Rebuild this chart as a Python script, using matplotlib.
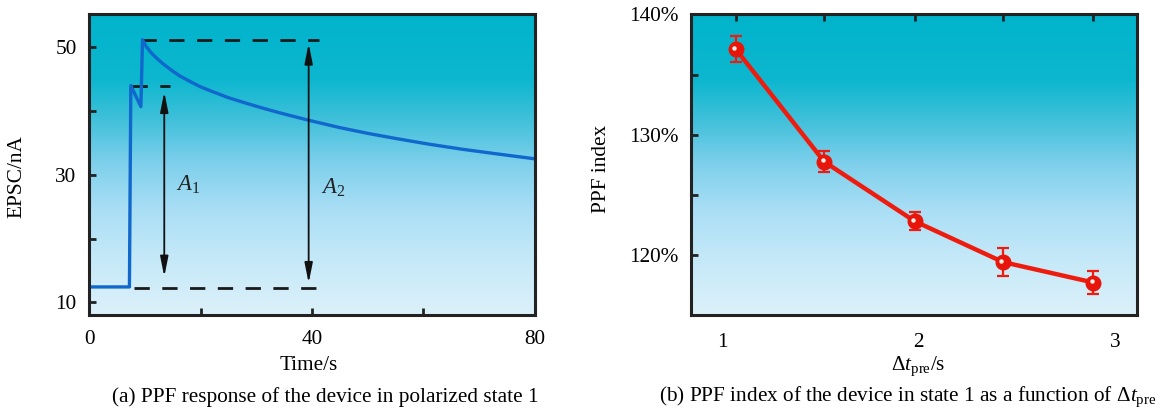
"""PPF response (a) and PPF index vs pulse interval (b)."""
import matplotlib
matplotlib.use("Agg")
import matplotlib.pyplot as plt
import numpy as np
from matplotlib.colors import LinearSegmentedColormap
from matplotlib.transforms import offset_copy

plt.rcParams["font.family"] = ["Liberation Serif", "DejaVu Serif"]
plt.rcParams["mathtext.fontset"] = "custom"
plt.rcParams["mathtext.rm"] = "Liberation Serif"
plt.rcParams["mathtext.it"] = "Liberation Serif:italic"
FS = 15.3

# ── (a) EPSC trace ──
time_s = [0, 7.25, 7.5, 9.3, 9.6, 10.2, 11, 12, 13.3, 14.8, 16.3, 18, 20, 22.3,
          25, 28.3, 31, 34.3, 39.2, 45, 50, 55, 61, 67, 73, 80]
epsc_nA = [12.4, 12.4, 44.0, 40.7, 51.2, 50.2, 49.3, 48.4, 47.4, 46.4, 45.5, 44.7,
           43.8, 43.0, 42.1, 41.2, 40.5, 39.7, 38.6, 37.4, 36.5, 35.7, 34.8, 34.0,
           33.3, 32.5]
# guide lines: level, start, end
guide_levels = [51.2, 44.0, 12.3]
guide_start = [9.3, 7.8, 8.0]
guide_end = [41.3, 14.5, 41.5]
# amplitude arrows
arrow_t = [13.5, 39.4]
arrow_top = [43.0, 50.6]
arrow_bottom = [14.0, 13.0]
arrow_labels = [r"$A_1$", r"$A_2$"]
label_t = [17.7, 43.8]
label_y = [28.4, 27.9]

# ── (b) PPF index ──
dt_pre = [1.07, 1.52, 1.98, 2.43, 2.89]
ppf_index = [137.1, 127.75, 122.8, 119.4, 117.7]
ppf_err = [1.1, 0.85, 0.75, 1.15, 0.95]

bg_cmap = LinearSegmentedColormap.from_list("bg", [
    (0.0, "#dcf1fa"), (0.2, "#c3e8f8"), (0.35, "#a9def5"),
    (0.5, "#7fd0ec"), (0.65, "#40c0da"), (0.78, "#0db7cf"), (1.0, "#00b4cc"),
])


def paint_background(ax):
    grad = np.linspace(0, 1, 256).reshape(-1, 1)
    ax.imshow(grad, cmap=bg_cmap, origin="lower", extent=[0, 1, 0, 1],
              transform=ax.transAxes, aspect="auto", zorder=0)
    for sp in ax.spines.values():
        sp.set_linewidth(2.2)
        sp.set_color("#222222")
        sp.set_zorder(5)


fig = plt.figure(figsize=(11.62, 4.08), dpi=100)
ax1 = fig.add_axes([0.0766, 0.228, 0.3838, 0.7388])
ax2 = fig.add_axes([0.5947, 0.228, 0.3838, 0.7367])

# ---- panel (a)
paint_background(ax1)
ax1.plot(time_s, epsc_nA, color="#1067cc", lw=2.4, zorder=3,
         solid_joinstyle="round")
for lvl, a, b in zip(guide_levels, guide_start, guide_end):
    ax1.plot([a, b], [lvl, lvl], color="#1a1a1a", lw=2.0,
             dashes=(5.5, 4.5), zorder=2)
for t, top, bot in zip(arrow_t, arrow_top, arrow_bottom):
    ax1.annotate("", xy=(t, top), xytext=(t, bot),
                 arrowprops=dict(arrowstyle="<|-|>,head_length=1.0,head_width=0.2",
                                 color="#111111", lw=1.3, shrinkA=0, shrinkB=0,
                                 mutation_scale=12), zorder=4)
for txt, tx, ty in zip(arrow_labels, label_t, label_y):
    ax1.text(tx, ty, txt, fontsize=FS + 1, ha="center", va="center",
             color="#222222")

ax1.set_xlim(0, 80)
ax1.set_ylim(8.0, 55.3)
ax1.set_xticks([0, 20, 40, 60, 80])
ax1.set_xticklabels(["0", "", "40", "", "80"])
ax1.set_yticks([10, 20, 30, 40, 50])
ax1.set_yticklabels(["10", "", "30", "", "50"])
ax1.tick_params(direction="in", length=5, width=2, color="#222222", labelsize=FS)
ax1.tick_params(axis="x", pad=11)
ax1.tick_params(axis="y", pad=9)
ax1.set_xlabel("Time/s", fontsize=FS)
ax1.xaxis.set_label_coords(0.493, -0.135)
ax1.set_ylabel("EPSC/nA", fontsize=FS)
ax1.yaxis.set_label_coords(-0.14, 0.46)

# ---- panel (b)
paint_background(ax2)
ax2.errorbar(dt_pre, ppf_index, yerr=ppf_err, color="#ee1c0e", lw=3.2,
             elinewidth=1.6, capsize=4, capthick=1.6, marker="o", ms=10.5,
             mfc="#e8150a", mec="#e8150a", zorder=3)
hl = offset_copy(ax2.transData, fig=fig, x=-1.2, y=1.0, units="points")
ax2.plot(dt_pre, ppf_index, ls="none", marker="o", ms=3.2, mfc="#fff0e8",
         mec="none", transform=hl, zorder=4)

ax2.set_xlim(0.842, 3.112)
ax2.set_ylim(115, 140)
ax2.set_xticks(dt_pre)
ax2.set_xticklabels([])
ax2.set_xticks([1, 2, 3], minor=True)
ax2.set_xticklabels(["1", "2", "3"], minor=True)
ax2.tick_params(axis="x", which="major", top=True, bottom=False, direction="in",
                length=5, width=2, color="#222222")
ax2.tick_params(axis="x", which="minor", length=0, pad=13, labelsize=FS)
ax2.set_yticks([115, 120, 125, 130, 135, 140])
ax2.set_yticklabels(["", "120%", "", "130%", "", "140%"])
ax2.tick_params(axis="y", direction="in", length=5, width=2, color="#222222",
                pad=9, labelsize=FS)
ax2.set_xlabel(r"$\Delta t_{\mathrm{pre}}$/s", fontsize=FS)
ax2.xaxis.set_label_coords(0.509, -0.13)
ax2.set_ylabel("PPF index", fontsize=FS)
ax2.yaxis.set_label_coords(-0.18, 0.487)

fig.text(0.2797, 0.027, "(a) PPF response of the device in polarized state 1",
         ha="center", va="center", fontsize=FS)
fig.text(0.567, 0.027,
         r"(b) PPF index of the device in state 1 as a function of $\Delta t_{\mathrm{pre}}$",
         ha="left", va="center", fontsize=FS)

fig.savefig("out.png", dpi=100)
